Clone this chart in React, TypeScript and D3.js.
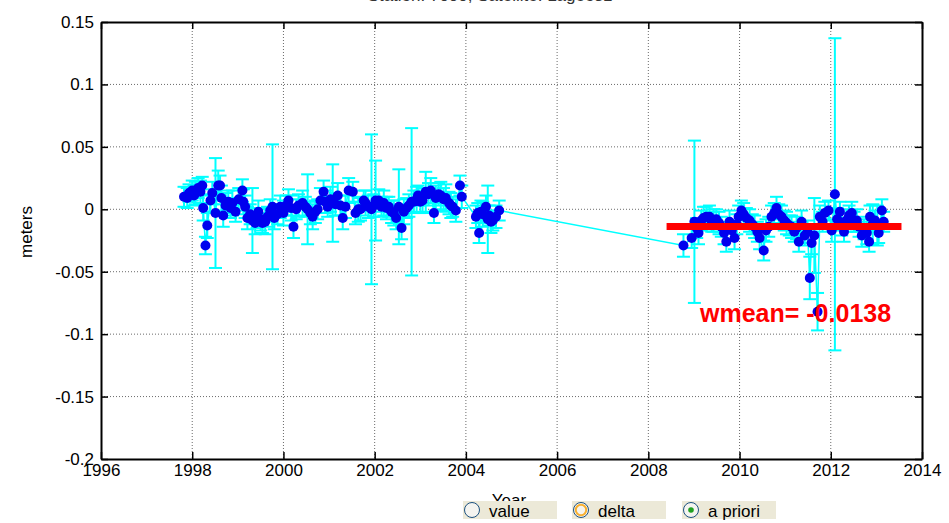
import { useRef, useEffect } from "react";
import * as d3 from "d3";

// [year, value (m), sigma (m)]
const obs1998to2004: [number, number, number][] = [
  [1997.82, 0.010, 0.008], [1997.89, 0.009, 0.008], [1997.93, 0.013, 0.007], [1998.00, 0.015, 0.008],
  [1998.04, 0.011, 0.008], [1998.07, 0.013, 0.009], [1998.13, 0.017, 0.008], [1998.18, 0.014, 0.009],
  [1998.22, 0.019, 0.007], [1998.24, 0.001, 0.010], [1998.29, -0.029, 0.007], [1998.33, -0.013, 0.010],
  [1998.40, 0.007, 0.009], [1998.44, 0.013, 0.009], [1998.51, -0.003, 0.044], [1998.57, 0.019, 0.012],
  [1998.61, 0.019, 0.008], [1998.64, 0.009, 0.010], [1998.68, -0.005, 0.009], [1998.73, 0.003, 0.010],
  [1998.79, 0.006, 0.009], [1998.84, 0.001, 0.008], [1998.88, 0.005, 0.010], [1998.95, -0.002, 0.008],
  [1999.02, 0.008, 0.009], [1999.10, 0.015, 0.009], [1999.12, 0.006, 0.010], [1999.16, 0.002, 0.009],
  [1999.21, -0.007, 0.009], [1999.27, -0.004, 0.008], [1999.32, -0.009, 0.026], [1999.38, -0.011, 0.009],
  [1999.42, -0.007, 0.008], [1999.45, -0.002, 0.009], [1999.50, -0.008, 0.009], [1999.54, -0.011, 0.008],
  [1999.60, -0.010, 0.010], [1999.65, -0.006, 0.008], [1999.71, -0.001, 0.009], [1999.76, 0.002, 0.050],
  [1999.80, -0.007, 0.009], [1999.87, -0.004, 0.008], [1999.93, 0.002, 0.009], [2000.00, -0.003, 0.010],
  [2000.06, 0.003, 0.008], [2000.11, 0.007, 0.009], [2000.17, 0.001, 0.010], [2000.22, -0.014, 0.009],
  [2000.28, 0.000, 0.008], [2000.33, 0.003, 0.009], [2000.42, 0.005, 0.010], [2000.48, 0.002, 0.008],
  [2000.53, 0.000, 0.028], [2000.59, -0.003, 0.009], [2000.64, -0.006, 0.010], [2000.70, -0.002, 0.009],
  [2000.75, 0.000, 0.008], [2000.81, 0.007, 0.010], [2000.88, 0.014, 0.009], [2000.92, 0.006, 0.009],
  [2000.97, 0.002, 0.008], [2001.03, 0.008, 0.010], [2001.08, 0.005, 0.031], [2001.14, 0.004, 0.009],
  [2001.19, 0.011, 0.010], [2001.25, 0.003, 0.008], [2001.30, -0.007, 0.009], [2001.36, 0.002, 0.009],
  [2001.43, 0.015, 0.010], [2001.52, 0.014, 0.008], [2001.58, -0.003, 0.009], [2001.64, 0.000, 0.010],
  [2001.69, 0.000, 0.009], [2001.76, 0.007, 0.008], [2001.80, 0.005, 0.010], [2001.86, 0.002, 0.009],
  [2001.93, 0.000, 0.060], [2001.98, 0.003, 0.009], [2002.02, 0.007, 0.032], [2002.09, 0.007, 0.009],
  [2002.15, 0.002, 0.008], [2002.20, 0.005, 0.010], [2002.26, 0.001, 0.009], [2002.31, 0.002, 0.008],
  [2002.37, -0.002, 0.009], [2002.42, -0.003, 0.010], [2002.47, -0.007, 0.009], [2002.53, 0.002, 0.030],
  [2002.59, -0.015, 0.009], [2002.64, -0.002, 0.010], [2002.70, 0.001, 0.008], [2002.75, 0.003, 0.009],
  [2002.81, 0.006, 0.059], [2002.86, 0.006, 0.009], [2002.92, 0.008, 0.010], [2002.95, 0.011, 0.008],
  [2003.00, 0.006, 0.009], [2003.05, 0.007, 0.010], [2003.12, 0.014, 0.016], [2003.18, 0.012, 0.009],
  [2003.23, 0.015, 0.010], [2003.30, -0.003, 0.008], [2003.34, 0.009, 0.010], [2003.40, 0.012, 0.009],
  [2003.45, 0.011, 0.011], [2003.51, 0.008, 0.009], [2003.56, 0.009, 0.011], [2003.63, 0.005, 0.009],
  [2003.67, 0.003, 0.010], [2003.71, 0.002, 0.008], [2003.78, -0.001, 0.009], [2003.87, 0.019, 0.008],
  [2003.91, 0.010, 0.009], [2004.22, -0.006, 0.009], [2004.26, -0.003, 0.008], [2004.29, -0.019, 0.008],
  [2004.33, -0.002, 0.009], [2004.37, -0.004, 0.010], [2004.44, 0.002, 0.009], [2004.48, -0.008, 0.027],
  [2004.51, -0.005, 0.008], [2004.55, -0.010, 0.009], [2004.59, -0.009, 0.008], [2004.66, -0.006, 0.009],
  [2004.73, -0.001, 0.008],
];

const obs2008to2013: [number, number, number][] = [
  [2008.77, -0.029, 0.009], [2008.95, -0.023, 0.008], [2009.01, -0.010, 0.065], [2009.06, -0.015, 0.008],
  [2009.10, -0.019, 0.009], [2009.16, -0.009, 0.008], [2009.21, -0.007, 0.009], [2009.27, -0.006, 0.008],
  [2009.34, -0.006, 0.009], [2009.39, -0.010, 0.008], [2009.43, -0.009, 0.009], [2009.49, -0.008, 0.008],
  [2009.55, -0.011, 0.009], [2009.60, -0.014, 0.008], [2009.66, -0.019, 0.009], [2009.71, -0.026, 0.008],
  [2009.78, -0.010, 0.009], [2009.83, -0.017, 0.008], [2009.89, -0.023, 0.009], [2009.94, -0.012, 0.008],
  [2009.98, -0.006, 0.009], [2010.04, -0.001, 0.008], [2010.09, -0.004, 0.009], [2010.15, -0.007, 0.008],
  [2010.22, -0.009, 0.009], [2010.28, -0.012, 0.008], [2010.33, -0.014, 0.009], [2010.39, -0.018, 0.008],
  [2010.44, -0.023, 0.009], [2010.53, -0.033, 0.008], [2010.58, -0.017, 0.009], [2010.64, -0.014, 0.008],
  [2010.70, -0.006, 0.009], [2010.76, -0.003, 0.008], [2010.81, 0.001, 0.009], [2010.86, -0.004, 0.008],
  [2010.92, -0.006, 0.009], [2010.98, -0.009, 0.008], [2011.03, -0.011, 0.009], [2011.09, -0.013, 0.008],
  [2011.14, -0.014, 0.009], [2011.20, -0.018, 0.008], [2011.25, -0.015, 0.009], [2011.30, -0.026, 0.008],
  [2011.36, -0.010, 0.009], [2011.43, -0.021, 0.008], [2011.49, -0.018, 0.009], [2011.54, -0.055, 0.017],
  [2011.58, -0.027, 0.009], [2011.64, -0.021, 0.030], [2011.71, -0.082, 0.015], [2011.76, -0.006, 0.009],
  [2011.82, -0.010, 0.008], [2011.87, -0.003, 0.009], [2011.95, -0.001, 0.008], [2012.02, -0.017, 0.009],
  [2012.09, 0.012, 0.125], [2012.14, -0.008, 0.009], [2012.20, -0.002, 0.008], [2012.24, -0.012, 0.009],
  [2012.29, -0.018, 0.008], [2012.34, -0.009, 0.009], [2012.40, -0.005, 0.008], [2012.46, -0.003, 0.009],
  [2012.51, -0.010, 0.008], [2012.57, -0.009, 0.009], [2012.62, -0.014, 0.008], [2012.68, -0.021, 0.009],
  [2012.73, -0.016, 0.008], [2012.79, -0.019, 0.009], [2012.84, -0.026, 0.008], [2012.86, -0.006, 0.009],
  [2012.92, -0.012, 0.016], [2012.97, -0.009, 0.008], [2013.02, -0.013, 0.016], [2013.05, -0.019, 0.008],
  [2013.12, -0.001, 0.009], [2013.16, -0.010, 0.008],
];

const xTicks = [1996, 1998, 2000, 2002, 2004, 2006, 2008, 2010, 2012, 2014];
const yTicks = [-0.2, -0.15, -0.1, -0.05, 0, 0.05, 0.1, 0.15];
const wmean = -0.0138;
const wmeanSpan = [2008.4, 2013.55];
const radioLabels = ["value", "delta", "a priori"];

const W = 949;
const H = 523;
const FONT = "'Liberation Sans', Arial, sans-serif";

function StationPlot() {
  const svgRef = useRef<SVGSVGElement>(null);

  useEffect(() => {
    const svg = d3.select(svgRef.current);
    svg.selectAll("*").remove();

    const x = d3.scaleLinear().domain([1996, 2014]).range([101, 922]);
    const y = d3.scaleLinear().domain([-0.2, 0.15]).range([459, 22]);
    const [x0, x1] = x.range();
    const [y0, y1] = y.range();
    const data = [...obs1998to2004, ...obs2008to2013];

    // title (cut off at the top in the original)
    svg.append("text")
      .attr("x", 490).attr("y", 1)
      .attr("text-anchor", "middle")
      .attr("font-family", FONT).attr("font-size", 17)
      .attr("fill", "#333")
      .text("Station: 7090, Satellite: Lageos1");

    // dotted grid
    const grid = svg.append("g").attr("stroke", "#6a6a6a").attr("stroke-dasharray", "1,2").attr("stroke-width", 1);
    grid.selectAll("line.gx").data(xTicks.slice(1, -1)).join("line")
      .attr("x1", (d) => x(d)).attr("x2", (d) => x(d)).attr("y1", y1).attr("y2", y0);
    grid.selectAll("line.gy").data(yTicks.slice(1, -1)).join("line")
      .attr("y1", (d) => y(d)).attr("y2", (d) => y(d)).attr("x1", x0).attr("x2", x1);

    // connecting line
    const line = d3.line<[number, number, number]>().x((d) => x(d[0])).y((d) => y(d[1]));
    svg.append("path").datum(data)
      .attr("d", line)
      .attr("fill", "none").attr("stroke", "#00ffff").attr("stroke-width", 1.5);

    // error bars
    const bars = svg.append("g").attr("stroke", "#00ffff").attr("stroke-width", 2);
    const cap = 6.5;
    data.forEach(([t, v, e]) => {
      const cx = x(t);
      bars.append("line").attr("x1", cx).attr("x2", cx).attr("y1", y(v - e)).attr("y2", y(v + e));
      bars.append("line").attr("x1", cx - cap).attr("x2", cx + cap).attr("y1", y(v - e)).attr("y2", y(v - e));
      bars.append("line").attr("x1", cx - cap).attr("x2", cx + cap).attr("y1", y(v + e)).attr("y2", y(v + e));
    });

    // markers
    svg.append("g").selectAll("circle").data(data).join("circle")
      .attr("cx", (d) => x(d[0])).attr("cy", (d) => y(d[1]))
      .attr("r", 5).attr("fill", "#0000ee");

    // weighted mean
    svg.append("line")
      .attr("x1", x(wmeanSpan[0])).attr("x2", x(wmeanSpan[1]))
      .attr("y1", y(wmean)).attr("y2", y(wmean))
      .attr("stroke", "#ff0000").attr("stroke-width", 7);
    svg.append("text")
      .attr("x", 700).attr("y", 322)
      .attr("font-family", FONT).attr("font-size", 25).attr("font-weight", "bold")
      .attr("fill", "#ff0000")
      .text(`wmean= ${wmean}`);

    // axes box with inward ticks
    const fmt = (d: number) => (d === 0 ? "0" : String(+d.toFixed(2)));
    const styleAxis = (g: d3.Selection<SVGGElement, unknown, null, undefined>) => {
      g.select(".domain").attr("stroke", "#000").attr("stroke-width", 2);
      g.selectAll(".tick line").attr("stroke", "#000").attr("stroke-width", 1.5);
      g.selectAll(".tick text").attr("font-family", FONT).attr("font-size", 17).attr("fill", "#000");
    };
    svg.append("g").attr("transform", `translate(${x0},0)`)
      .call(d3.axisLeft(y).tickValues(yTicks).tickSize(-7).tickSizeOuter(0).tickPadding(7).tickFormat((d) => fmt(+d)))
      .call(styleAxis);
    svg.append("g").attr("transform", `translate(${x1},0)`)
      .call(d3.axisRight(y).tickValues(yTicks).tickSize(-7).tickSizeOuter(0).tickFormat(() => ""))
      .call(styleAxis);
    svg.append("g").attr("transform", `translate(0,${y0})`)
      .call(d3.axisBottom(x).tickValues(xTicks).tickSize(-7).tickSizeOuter(0).tickPadding(5).tickFormat((d) => String(d)))
      .call(styleAxis);
    svg.append("g").attr("transform", `translate(0,${y1})`)
      .call(d3.axisTop(x).tickValues(xTicks).tickSize(-7).tickSizeOuter(0).tickFormat(() => ""))
      .call(styleAxis);

    // axis labels
    svg.append("text")
      .attr("transform", "translate(32,232) rotate(-90)")
      .attr("text-anchor", "middle")
      .attr("font-family", FONT).attr("font-size", 17)
      .text("meters");
    svg.append("text")
      .attr("x", 509).attr("y", 506)
      .attr("text-anchor", "middle")
      .attr("font-family", FONT).attr("font-size", 17)
      .text("Year");

    // radio buttons strip (covers the Year label partly)
    const boxX = [463, 572, 682];
    const radios = svg.append("g");
    radioLabels.forEach((label, i) => {
      const bx = boxX[i];
      const g = radios.append("g");
      g.append("rect").attr("x", bx).attr("y", 501).attr("width", 94).attr("height", 18).attr("fill", "#ece9d8");
      const cx = bx + 9;
      g.append("circle").attr("cx", cx).attr("cy", 510).attr("r", 7.5)
        .attr("fill", "#f4f4f0").attr("stroke", "#1c5180").attr("stroke-width", 1);
      if (i === 1) {
        g.append("circle").attr("cx", cx).attr("cy", 510).attr("r", 5.2)
          .attr("fill", "#f6f4ec").attr("stroke", "#f8b030").attr("stroke-width", 2);
      }
      if (i === 2) {
        g.append("circle").attr("cx", cx).attr("cy", 510).attr("r", 2.8).attr("fill", "#21a121");
      }
      g.append("text")
        .attr("x", bx + 26).attr("y", 517)
        .attr("font-family", FONT).attr("font-size", 17)
        .attr("fill", "#000")
        .text(label);
    });
  }, []);

  return <svg ref={svgRef} width={W} height={H} style={{ position: "absolute", left: 0, top: 0, background: "#fff" }} />;
}

export default function App() {
  return <StationPlot />;
}
